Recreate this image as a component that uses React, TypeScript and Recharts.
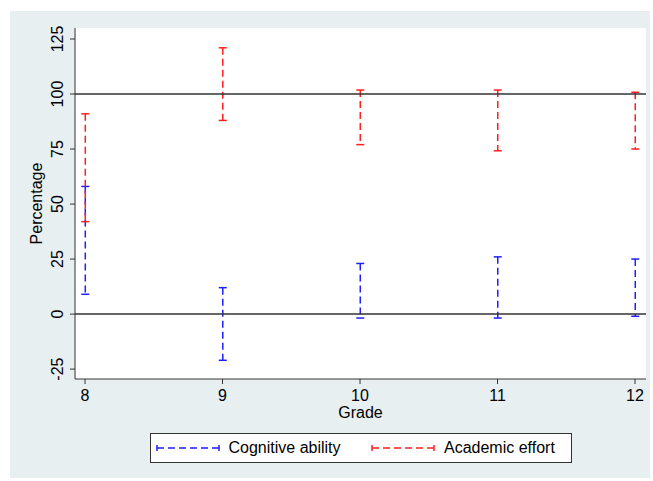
import {
  Bar,
  CartesianGrid,
  ComposedChart,
  Legend,
  ReferenceLine,
  XAxis,
  YAxis,
} from "recharts";

// values
const grades = [8, 9, 10, 11, 12];
const cognitiveLow = [9, -21, -1.8, -1.8, -1];
const cognitiveHigh = [58, 12, 23, 26, 25];
const effortLow = [42, 88, 77, 74.2, 75];
const effortHigh = [91, 121, 101.8, 101.8, 100.8];
const yTicks = [-25, 0, 25, 50, 75, 100, 125];

const seriesInfo = [
  { key: "cognitive", name: "Cognitive ability", color: "#1f1fff" },
  { key: "effort", name: "Academic effort", color: "#ff1f1f" },
];

const data = grades.map((g, i) => ({
  grade: g,
  cognitive: [cognitiveLow[i], cognitiveHigh[i]],
  effort: [effortLow[i], effortHigh[i]],
}));

const FONT = '"Liberation Sans", Arial, sans-serif';
const FS = 16;

// dashed range line with caps at both ends
const rangeShape = (color: string) => (props: any) => {
  const { x, y, width, height } = props;
  const cx = x + width / 2;
  return (
    <g>
      <line x1={cx} x2={cx} y1={y} y2={y + height} stroke={color} strokeWidth={1.5} strokeDasharray="7 4" />
      <line x1={cx - 4} x2={cx + 4} y1={y} y2={y} stroke={color} strokeWidth={1.5} />
      <line x1={cx - 4} x2={cx + 4} y1={y + height} y2={y + height} stroke={color} strokeWidth={1.5} />
    </g>
  );
};

const YTick = (props: any) => {
  const { x, y, payload } = props;
  const bx = x - 5;
  return (
    <text x={bx} y={y} transform={`rotate(-90 ${bx} ${y})`} textAnchor="middle" fontSize={FS} fill="#000" fontFamily={FONT}>
      {payload.value}
    </text>
  );
};

const LegendSymbol = ({ color }: { color: string }) => (
  <svg width={64} height={10} style={{ display: "block" }}>
    <line x1={1} x2={63} y1={5} y2={5} stroke={color} strokeWidth={1.5} strokeDasharray="7 4" />
    <line x1={1} x2={1} y1={2} y2={8} stroke={color} strokeWidth={1.5} />
    <line x1={63} x2={63} y1={2} y2={8} stroke={color} strokeWidth={1.5} />
  </svg>
);

const LegendBox = () => (
  <div style={{ display: "flex", justifyContent: "center" }}>
    <div
      style={{
        border: "1px solid #333",
        background: "#fff",
        height: 28,
        width: 420,
        display: "flex",
        alignItems: "center",
        fontFamily: FONT,
        fontSize: FS,
        color: "#000",
      }}
    >
      {seriesInfo.map((s, i) => (
        <div
          key={s.key}
          style={{ display: "flex", alignItems: "center", width: i === 0 ? 216 : 200, paddingLeft: i === 0 ? 5 : 0 }}
        >
          <LegendSymbol color={s.color} />
          <span style={{ marginLeft: 9 }}>{s.name}</span>
        </div>
      ))}
    </div>
  </div>
);

export default function App() {
  return (
    <div style={{ position: "absolute", left: 0, top: 0, width: 653, height: 481, background: "#fff" }}>
      <div style={{ position: "absolute", left: 10, top: 11, width: 640, height: 467, background: "#e8eff1" }}>
        <ComposedChart
          width={640}
          height={467}
          data={data}
          margin={{ top: 17, right: 4, left: 0, bottom: 15 }}
          barGap={-8}
          barSize={8}
        >
          <rect x={65} y={17} width={571} height={351} fill="#fff" />
          <CartesianGrid vertical={false} stroke="#e8eff1" strokeWidth={1.5} />
          <XAxis
            dataKey="grade"
            type="number"
            domain={[7.927, 12.08]}
            ticks={grades}
            allowDataOverflow
            height={54}
            tickSize={5}
            tickMargin={6}
            stroke="#333"
            tick={{ fontSize: FS, fill: "#000", fontFamily: FONT }}
            label={{
              content: ({ viewBox }: any) => (
                <text
                  x={viewBox.x + viewBox.width / 2}
                  y={viewBox.y + 39}
                  textAnchor="middle"
                  fontSize={FS}
                  fill="#000"
                  fontFamily={FONT}
                >
                  Grade
                </text>
              ),
            }}
          />
          <YAxis
            type="number"
            domain={[-29.5, 130]}
            ticks={yTicks}
            allowDataOverflow
            width={65}
            tickSize={5}
            stroke="#333"
            tick={<YTick />}
            label={{
              content: ({ viewBox }: any) => {
                const lx = viewBox.x + 32;
                const ly = viewBox.y + viewBox.height / 2;
                return (
                  <text x={lx} y={ly} transform={`rotate(-90 ${lx} ${ly})`} textAnchor="middle" fontSize={FS} fill="#000" fontFamily={FONT}>
                    Percentage
                  </text>
                );
              },
            }}
          />
          <ReferenceLine y={0} stroke="#333" strokeWidth={1.5} />
          <ReferenceLine y={100} stroke="#333" strokeWidth={1.5} />
          {seriesInfo.map((s) => (
            <Bar
              key={s.key}
              dataKey={s.key}
              name={s.name}
              fill={s.color}
              shape={rangeShape(s.color)}
              isAnimationActive={false}
            />
          ))}
          <Legend
            verticalAlign="bottom"
            content={<LegendBox />}
            wrapperStyle={{ left: 65, width: 571 }}
          />
        </ComposedChart>
      </div>
    </div>
  );
}
